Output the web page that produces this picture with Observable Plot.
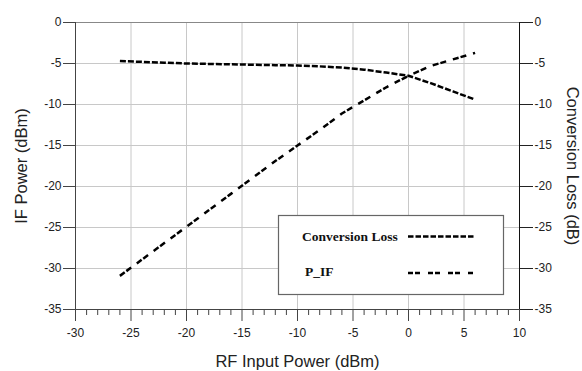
<!DOCTYPE html>
<html>
<head>
<meta charset="utf-8">
<script src="https://cdn.jsdelivr.net/npm/d3@7"></script>
<script src="https://cdn.jsdelivr.net/npm/@observablehq/plot@0.6"></script>
<style>
  html, body { margin: 0; padding: 0; background: #fff; }
</style>
</head>
<body>
<div id="chart"></div>
<script>
// ---- data ----
const rfInput  = [-26, -24, -22, -20, -18, -16, -14, -12, -10, -8, -6, -4, -2, 0, 2, 4, 6];
const convLoss = [-4.7, -4.8, -4.9, -5.0, -5.05, -5.1, -5.15, -5.2, -5.25, -5.35, -5.5, -5.75, -6.1, -6.5, -7.4, -8.4, -9.4];
const pIF      = [-30.9, -28.9, -26.9, -24.9, -22.9, -20.9, -18.9, -16.9, -15.0, -13.1, -11.1, -9.5, -7.9, -6.5, -5.3, -4.5, -3.7];

const xTicks = [-30, -25, -20, -15, -10, -5, 0, 5, 10];
const yTicks = [0, -5, -10, -15, -20, -25, -30, -35];
const xMinor = d3.range(-30, 11, 1).filter(v => v % 5 !== 0);

const seriesNames = ["Conversion Loss", "P_IF"];
const xTitle = "RF Input Power (dBm)";
const yTitleLeft = "IF Power (dBm)";
const yTitleRight = "Conversion Loss (dB)";

const rows = rfInput.map((x, i) => ({x, cl: convLoss[i], pif: pIF[i]}));
const fmt = d => String(d);

// legend drawn as a custom mark
function legendMark(index, scales, values, dims) {
  const g = d3.create("svg:g");
  const bx = 278, by = 215, bw = 225, bh = 79;
  g.append("rect").attr("x", bx + 0.5).attr("y", by + 0.5).attr("width", bw).attr("height", bh)
    .attr("fill", "#fff").attr("stroke", "#666").attr("stroke-width", 1.2);
  const items = [
    {name: seriesNames[0], tx: 302, ty: 241, ly: 236.5, dash: "5.5,2"},
    {name: seriesNames[1], tx: 305, ty: 276, ly: 273, dash: "5,2,5,8"}
  ];
  for (const it of items) {
    g.append("text").attr("x", it.tx).attr("y", it.ty)
      .attr("text-anchor", "start")
      .attr("font-family", "'Liberation Serif', 'Times New Roman', serif")
      .attr("font-weight", "bold").attr("font-size", 13.5).attr("fill", "#111")
      .text(it.name);
    g.append("line").attr("x1", 408).attr("x2", 475).attr("y1", it.ly).attr("y2", it.ly)
      .attr("stroke", "#000").attr("stroke-width", 2.5).attr("stroke-dasharray", it.dash);
  }
  return g.node();
}

const chart = Plot.plot({
  width: 582,
  height: 371,
  marginLeft: 75,
  marginRight: 63,
  marginTop: 22,
  marginBottom: 62,
  x: {domain: [-30, 10]},
  y: {domain: [-35, 0]},
  style: {fontFamily: "'Liberation Sans', Arial, sans-serif", fontSize: "12px", color: "#222", background: "#fff"},
  marks: [
    Plot.gridX(xTicks.filter(v => v > -30 && v < 10), {stroke: "#c8c8c8", strokeOpacity: 1}),
    Plot.gridY(yTicks.filter(v => v < 0 && v > -35), {stroke: "#c8c8c8", strokeOpacity: 1}),
    Plot.ruleY([0], {stroke: "#888"}),
    Plot.ruleY([-35], {stroke: "#444"}),
    Plot.ruleX([-30], {stroke: "#444"}),
    Plot.ruleX([10], {stroke: "#111"}),
    Plot.axisX(xTicks, {anchor: "bottom", tickSize: 12, tickPadding: 7, tickFormat: fmt, label: null, stroke: "#444", fill: "#222"}),
    Plot.axisX(xMinor, {anchor: "bottom", tickSize: 6, tickFormat: () => "", label: null, stroke: "#444"}),
    Plot.axisY(yTicks, {anchor: "left", tickSize: 12, tickPadding: 2, tickFormat: fmt, label: null, stroke: "#444", fill: "#222"}),
    Plot.axisY(yTicks, {anchor: "right", tickSize: 13, tickPadding: 2, tickFormat: fmt, label: null, stroke: "#222", fill: "#222"}),
    Plot.line(rows, {x: "x", y: "cl", stroke: "#000", strokeWidth: 2.5, strokeDasharray: "6,2", strokeLinecap: "butt"}),
    Plot.line(rows, {x: "x", y: "pif", stroke: "#000", strokeWidth: 2.5, strokeDasharray: "6,2,6,7", strokeLinecap: "butt"}),
    legendMark,
    Plot.text([xTitle], {frameAnchor: "bottom", dy: 52, lineAnchor: "middle", textAnchor: "middle", fontSize: 16.5, fill: "#222"}),
    Plot.text([yTitleLeft], {frameAnchor: "left", dx: -54, rotate: -90, textAnchor: "middle", lineAnchor: "middle", fontSize: 16.5, fill: "#222"}),
    Plot.text([yTitleRight], {frameAnchor: "right", dx: 53, rotate: 90, textAnchor: "middle", lineAnchor: "middle", fontSize: 16.5, fill: "#222"})
  ]
});
document.getElementById("chart").append(chart);
</script>
</body>
</html>
